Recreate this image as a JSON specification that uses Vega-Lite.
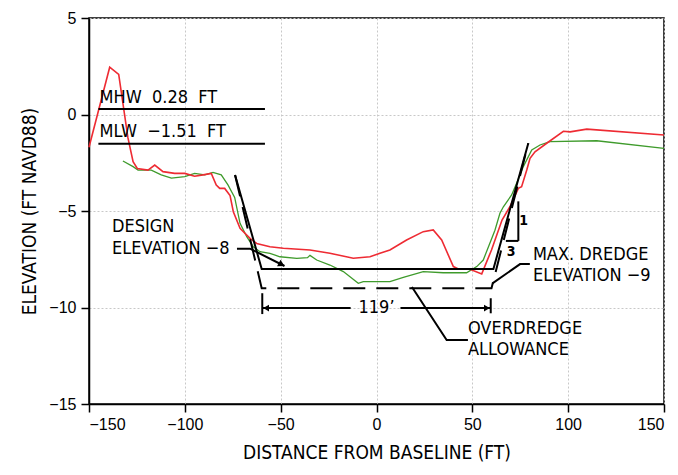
{
  "$schema": "https://vega.github.io/schema/vega-lite/v6.json",
  "width": 575,
  "height": 386,
  "autosize": {"type": "none"},
  "padding": {"left": 89, "top": 18, "right": 14, "bottom": 71},
  "background": "white",
  "config": {
    "view": {"stroke": "black", "strokeWidth": 1.5},
    "axis": {
      "domainColor": "black", "domainWidth": 1.5,
      "tickColor": "black", "tickWidth": 1.5, "tickSize": 8,
      "labelFont": "Liberation Sans", "labelFontSize": 16, "labelColor": "black",
      "titleFont": "DejaVu Sans Condensed", "titleFontSize": 19, "titleFontWeight": "normal", "titleColor": "black",
      "gridColor": "#c8c8c8", "gridDash": [2, 2], "gridWidth": 1
    }
  },
  "datasets": {
    "red": [
      {"x": -150, "y": -1.7}, {"x": -139.2, "y": 2.45}, {"x": -134.5, "y": 2.08}, {"x": -129.7, "y": -1.2},
      {"x": -127, "y": -2.45}, {"x": -124.8, "y": -2.8}, {"x": -119.2, "y": -2.88}, {"x": -115.7, "y": -2.62},
      {"x": -111.4, "y": -2.96}, {"x": -105.3, "y": -3.05}, {"x": -100, "y": -3.05}, {"x": -94.9, "y": -3.2},
      {"x": -90.5, "y": -3.13}, {"x": -86.2, "y": -3.05}, {"x": -83.6, "y": -3.65}, {"x": -81.8, "y": -3.83},
      {"x": -79.2, "y": -3.83}, {"x": -76.4, "y": -4.2}, {"x": -74.7, "y": -5.04}, {"x": -71.2, "y": -5.9},
      {"x": -66, "y": -6.42}, {"x": -62.5, "y": -6.68}, {"x": -55.6, "y": -6.85}, {"x": -48.6, "y": -6.93},
      {"x": -34.7, "y": -7.02}, {"x": -24.3, "y": -7.19}, {"x": -12.1, "y": -7.45}, {"x": -3.4, "y": -7.37},
      {"x": 1.8, "y": -7.19}, {"x": 7, "y": -7.02}, {"x": 15.7, "y": -6.5}, {"x": 24.4, "y": -6.07},
      {"x": 29.6, "y": -5.98}, {"x": 34, "y": -6.5}, {"x": 40.1, "y": -7.88}, {"x": 42.7, "y": -8.0},
      {"x": 48.8, "y": -8.02}, {"x": 54.9, "y": -8.26}, {"x": 60, "y": -7.02}, {"x": 65.5, "y": -5.47},
      {"x": 69.6, "y": -4.78}, {"x": 74, "y": -3.83}, {"x": 75.7, "y": -3.74}, {"x": 78.4, "y": -2.88},
      {"x": 80.1, "y": -2.27}, {"x": 82.7, "y": -1.93}, {"x": 88.8, "y": -1.49}, {"x": 97.5, "y": -0.87},
      {"x": 101, "y": -0.9}, {"x": 109.7, "y": -0.76}, {"x": 150, "y": -1.06}
    ],
    "green": [
      {"x": -132.3, "y": -2.41}, {"x": -127, "y": -2.7}, {"x": -124.4, "y": -2.88}, {"x": -117.5, "y": -2.88},
      {"x": -112.3, "y": -3.13}, {"x": -107, "y": -3.3}, {"x": -100, "y": -3.22}, {"x": -94.9, "y": -3.05},
      {"x": -89.6, "y": -3.13}, {"x": -85.3, "y": -3.0}, {"x": -81, "y": -3.13}, {"x": -77.5, "y": -3.65},
      {"x": -74, "y": -4.3}, {"x": -71.2, "y": -5.64}, {"x": -67.7, "y": -6.33}, {"x": -64.3, "y": -6.85},
      {"x": -60.8, "y": -7.11}, {"x": -55.6, "y": -7.19}, {"x": -50.4, "y": -7.37}, {"x": -41.6, "y": -7.45},
      {"x": -36, "y": -7.42}, {"x": -34.7, "y": -7.3}, {"x": -31.2, "y": -7.54}, {"x": -24.3, "y": -7.8},
      {"x": -17.3, "y": -8.14}, {"x": -9.5, "y": -8.75}, {"x": -6.9, "y": -8.66}, {"x": 7, "y": -8.66},
      {"x": 14, "y": -8.44}, {"x": 24.4, "y": -8.14}, {"x": 34.8, "y": -8.2}, {"x": 47, "y": -8.2},
      {"x": 52.3, "y": -7.88}, {"x": 55.7, "y": -7.54}, {"x": 61.8, "y": -6.0}, {"x": 64.4, "y": -5.12},
      {"x": 66.2, "y": -4.78}, {"x": 70.5, "y": -4.17}, {"x": 73.1, "y": -3.56}, {"x": 76.6, "y": -2.7},
      {"x": 81, "y": -1.84}, {"x": 85.3, "y": -1.58}, {"x": 90.5, "y": -1.41}, {"x": 114.9, "y": -1.36},
      {"x": 150, "y": -1.75}
    ],
    "solid": [
      {"g": "design", "i": 0, "x": -73.8, "y": -3.13}, {"g": "design", "i": 1, "x": -59.9, "y": -8.0},
      {"g": "design", "i": 2, "x": 61, "y": -8.0}, {"g": "design", "i": 3, "x": 79.2, "y": -1.49},
      {"g": "mhw", "i": 0, "x": -145.1, "y": 0.28}, {"g": "mhw", "i": 1, "x": -58.2, "y": 0.28},
      {"g": "mlw", "i": 0, "x": -145.1, "y": -1.51}, {"g": "mlw", "i": 1, "x": -58.2, "y": -1.51},
      {"g": "lead8", "i": 0, "x": -72.8, "y": -6.95}, {"g": "lead8", "i": 1, "x": -66, "y": -6.95}, {"g": "lead8", "i": 2, "x": -48, "y": -7.85},
      {"g": "lead9", "i": 0, "x": 80, "y": -7.75}, {"g": "lead9", "i": 1, "x": 74.9, "y": -7.75}, {"g": "lead9", "i": 2, "x": 60.5, "y": -8.75},
      {"g": "leadod", "i": 0, "x": 47.7, "y": -11.68}, {"g": "leadod", "i": 1, "x": 36.6, "y": -11.68}, {"g": "leadod", "i": 2, "x": 18.5, "y": -8.94},
      {"g": "tickL", "i": 0, "x": -59.6, "y": -9.26}, {"g": "tickL", "i": 1, "x": -59.6, "y": -10.34},
      {"g": "tickR", "i": 0, "x": 59.6, "y": -9.52}, {"g": "tickR", "i": 1, "x": 59.6, "y": -10.3},
      {"g": "dimL", "i": 0, "x": -59.6, "y": -10.03}, {"g": "dimL", "i": 1, "x": -13.5, "y": -10.03},
      {"g": "dimR", "i": 0, "x": 12.5, "y": -10.03}, {"g": "dimR", "i": 1, "x": 59.6, "y": -10.03},
      {"g": "slopeV", "i": 0, "x": 74, "y": -4.5}, {"g": "slopeV", "i": 1, "x": 74, "y": -6.55},
      {"g": "slopeH", "i": 0, "x": 67.5, "y": -6.55}, {"g": "slopeH", "i": 1, "x": 74, "y": -6.55}
    ],
    "dashed": [
      {"g": "od", "i": 0, "x": -73.8, "y": -3.13}, {"g": "od", "i": 1, "x": -59.9, "y": -9.0},
      {"g": "od", "i": 2, "x": 60, "y": -9.0}, {"g": "od", "i": 3, "x": 79.2, "y": -1.49}
    ],
    "labels": [
      {"t": "MHW\u00a0\u00a00.28\u00a0\u00a0FT", "x": -144.5, "y": 0.84},
      {"t": "MLW\u00a0\u00a0−1.51\u00a0\u00a0FT", "x": -144.5, "y": -0.93},
      {"t": "DESIGN", "x": -138, "y": -5.85},
      {"t": "ELEVATION −8", "x": -138, "y": -6.97},
      {"t": "MAX. DREDGE", "x": 81.6, "y": -7.3},
      {"t": "ELEVATION −9", "x": 81.6, "y": -8.38},
      {"t": "OVERDREDGE", "x": 47.7, "y": -11.12},
      {"t": "ALLOWANCE", "x": 47.7, "y": -12.22}
    ],
    "centered": [
      {"t": "119’", "x": 0, "y": -10.03}
    ],
    "small": [
      {"t": "1", "x": 76.8, "y": -5.5},
      {"t": "3", "x": 70.3, "y": -7.15}
    ],
    "arrows": [
      {"k": "left", "x": -57.6, "y": -10.03},
      {"k": "right", "x": 57.6, "y": -10.03},
      {"k": "d8", "x": -49.5, "y": -7.77}
    ]
  },
  "encoding": {
    "x": {
      "field": "x", "type": "quantitative",
      "scale": {"domain": [-150, 150], "nice": false, "zero": false},
      "axis": {"values": [-150, -100, -50, 0, 50, 100, 150], "title": "DISTANCE FROM BASELINE (FT)", "labelPadding": 4, "titlePadding": 11, "grid": true}
    },
    "y": {
      "field": "y", "type": "quantitative",
      "scale": {"domain": [-15, 5], "nice": false, "zero": false},
      "axis": {"values": [-15, -10, -5, 0, 5], "title": "ELEVATION (FT NAVD88)", "labelPadding": 5, "titlePadding": 9, "grid": true}
    }
  },
  "layer": [
    {"data": {"name": "green"}, "mark": {"type": "line", "color": "#3f9b2c", "strokeWidth": 1.3}},
    {"data": {"name": "red"}, "mark": {"type": "line", "color": "#ee2b33", "strokeWidth": 1.6}},
    {"data": {"name": "solid"}, "mark": {"type": "line", "color": "black", "strokeWidth": 2},
     "encoding": {"detail": {"field": "g"}, "order": {"field": "i"}}},
    {"data": {"name": "dashed"}, "mark": {"type": "line", "color": "black", "strokeWidth": 2, "strokeDash": [22, 11]},
     "encoding": {"detail": {"field": "g"}, "order": {"field": "i"}}},
    {"data": {"name": "labels"}, "mark": {"type": "text", "align": "left", "baseline": "middle", "font": "DejaVu Sans Condensed", "fontSize": 18, "color": "black"},
     "encoding": {"text": {"field": "t"}}},
    {"data": {"name": "centered"}, "mark": {"type": "text", "align": "center", "baseline": "middle", "font": "DejaVu Sans Condensed", "fontSize": 18, "color": "black"},
     "encoding": {"text": {"field": "t"}}},
    {"data": {"name": "small"}, "mark": {"type": "text", "align": "center", "baseline": "middle", "font": "DejaVu Sans Condensed", "fontWeight": "bold", "fontSize": 14, "color": "black"},
     "encoding": {"text": {"field": "t"}}},
    {"data": {"name": "arrows"}, "transform": [{"filter": "datum.k == 'left'"}],
     "mark": {"type": "point", "shape": "triangle-left", "filled": true, "color": "black", "size": 45, "opacity": 1}},
    {"data": {"name": "arrows"}, "transform": [{"filter": "datum.k == 'right'"}],
     "mark": {"type": "point", "shape": "triangle-right", "filled": true, "color": "black", "size": 45, "opacity": 1}},
    {"data": {"name": "arrows"}, "transform": [{"filter": "datum.k == 'd8'"}],
     "mark": {"type": "point", "shape": "triangle-right", "angle": 28, "filled": true, "color": "black", "size": 55, "opacity": 1}}
  ]
}
